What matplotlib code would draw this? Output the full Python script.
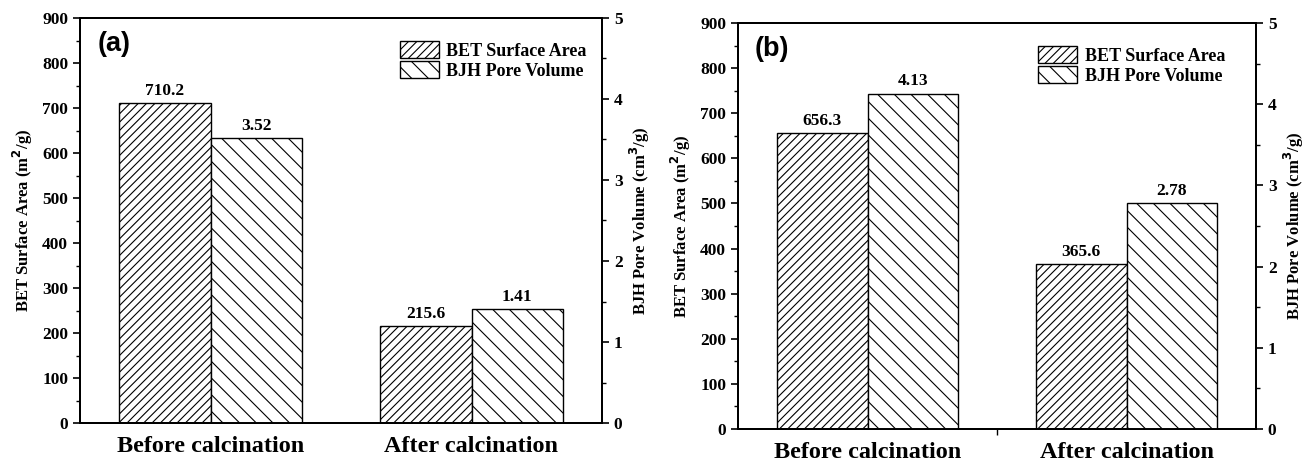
import matplotlib
matplotlib.use("Agg")
import matplotlib.pyplot as plt
import numpy as np

categories = ["Before calcination", "After calcination"]

bet_a = [710.2, 215.6]
bjh_a = [3.52, 1.41]
bet_b = [656.3, 365.6]
bjh_b = [4.13, 2.78]

panel_labels = ["(a)", "(b)"]
series_names = ["BET Surface Area", "BJH Pore Volume"]

plt.rcParams['font.family'] = 'Liberation Serif'
plt.rcParams['font.weight'] = 'bold'
plt.rcParams['hatch.linewidth'] = 0.8

WIDTH = 0.35


def draw_panel(fig, rect, bet, bjh, tag, legend_x, mid_tick=False):
    ax = fig.add_axes(rect)
    ax2 = ax.twinx()
    x = np.arange(len(categories))

    b1 = ax.bar(x - WIDTH / 2, bet, WIDTH, facecolor='white', edgecolor='black',
                hatch='////', linewidth=1.0, label=series_names[0])
    b2 = ax2.bar(x + WIDTH / 2, bjh, WIDTH, facecolor='white', edgecolor='black',
                 hatch='\\\\', linewidth=1.0, label=series_names[1])

    for xi, v in zip(x, bet):
        ax.annotate(f"{v:.1f}", (xi - WIDTH / 2, v), xytext=(0, 3), textcoords='offset points',
                    ha='center', va='bottom', fontsize=12.5, fontweight='bold')
    for xi, v in zip(x, bjh):
        ax2.annotate(f"{v:.2f}", (xi + WIDTH / 2, v), xytext=(0, 3), textcoords='offset points',
                     ha='center', va='bottom', fontsize=12.5, fontweight='bold')

    ax.set_xlim(-0.5, 1.5)
    ax.set_ylim(0, 900)
    ax2.set_ylim(0, 5)
    ax.set_yticks(np.arange(0, 901, 100))
    ax.set_yticks(np.arange(50, 900, 100), minor=True)
    ax2.set_yticks(np.arange(0, 6, 1))
    ax2.set_yticks(np.arange(0.5, 5, 1), minor=True)
    ax.set_xticks(x)
    ax.set_xticklabels(categories, fontsize=17.5, fontweight='bold')
    if mid_tick:
        ax.set_xticks([0.5], minor=True)
    ax.tick_params(axis='x', which='major', length=0, pad=9)
    ax.tick_params(axis='x', which='minor', length=4, width=1.0)
    ax.tick_params(axis='y', which='major', length=5, width=1.2, labelsize=12.5, direction='out')
    ax.tick_params(axis='y', which='minor', length=3, width=1.0, direction='out')
    ax2.tick_params(axis='y', which='major', length=5, width=1.2, labelsize=12.5, direction='out')
    ax2.tick_params(axis='y', which='minor', length=3, width=1.0, direction='out')
    for a in (ax, ax2):
        for s in a.spines.values():
            s.set_linewidth(1.4)

    ax.set_ylabel("BET Surface Area (m$^\\mathbf{2}$/g)", fontsize=12, fontweight='bold', labelpad=5)
    ax2.set_ylabel("BJH Pore Volume (cm$^\\mathbf{3}$/g)", fontsize=12, fontweight='bold', labelpad=4)

    ax.text(0.033, 0.935, tag, transform=ax.transAxes, fontsize=19.5, fontweight='bold',
            family='Liberation Sans', va='center', ha='left')

    ax2.legend([b1, b2], series_names, loc='upper right', bbox_to_anchor=(legend_x, 0.943),
               frameon=False, fontsize=13, handlelength=2.2, handleheight=1.1,
               handletextpad=0.4, labelspacing=0.05, borderpad=0, borderaxespad=0)
    return ax, ax2


fig = plt.figure(figsize=(13.07, 4.63), dpi=100)
draw_panel(fig, [80 / 1307, 40 / 463, 522 / 1307, 405 / 463], bet_a, bjh_a, panel_labels[0], 0.971)
draw_panel(fig, [738 / 1307, 34 / 463, 518 / 1307, 406 / 463], bet_b, bjh_b, panel_labels[1], 0.94,
           mid_tick=True)

fig.savefig("out.png", dpi=100)
